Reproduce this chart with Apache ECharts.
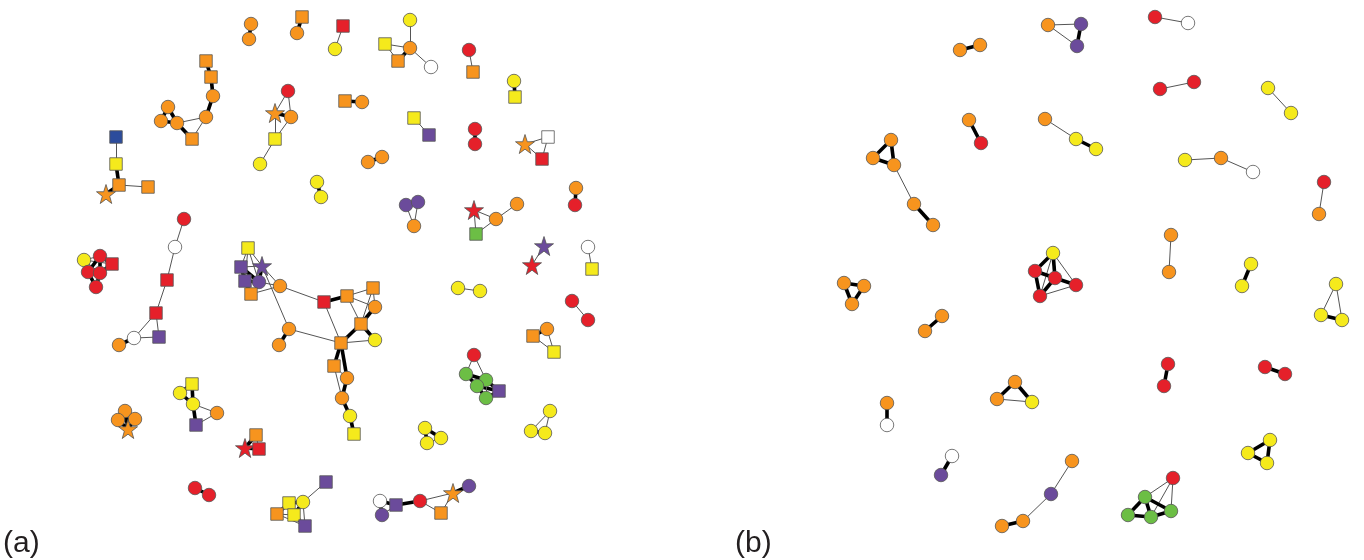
<!DOCTYPE html>
<html><head><meta charset="utf-8">
<script src="https://cdn.jsdelivr.net/npm/echarts@6/dist/echarts.min.js"></script>
<style>html,body{margin:0;padding:0;background:#fff}#c{width:1364px;height:560px}</style>
</head><body><div id="c"></div>
<script>
// Node attributes: [id, x, y, colour code, shape code]  (c=circle, s=square, t=star)
const nodesA = [
 ['a1a',251,24,'O','c'],['a1b',249,39,'O','c'],
 ['a2a',302,17,'O','s'],['a2b',297,33,'O','c'],
 ['a3a',343,26,'R','s'],['a3b',335,49,'Y','c'],
 ['a4a',410,20,'Y','c'],['a4b',410,48,'O','c'],['a4c',385,44,'Y','s'],['a4d',398,61,'O','s'],['a4e',431,67,'W','c'],
 ['a5a',469,50,'R','c'],['a5b',473,72,'O','s'],
 ['a6a',514,81,'Y','c'],['a6b',515,97,'Y','s'],
 ['a7a',206,61,'O','s'],['a7b',211,77,'O','s'],['a7c',213,96,'O','c'],['a7d',206,117,'O','c'],['a7e',168,107,'O','c'],['a7f',161,121,'O','c'],['a7g',177,123,'O','c'],['a7h',192,139,'O','s'],
 ['a8a',288,91,'R','c'],['a8b',275,113,'O','t'],['a8c',291,117,'O','c'],['a8d',275,139,'Y','s'],['a8e',260,164,'Y','c'],
 ['a9a',345,101,'O','s'],['a9b',362,102,'O','c'],
 ['a10a',414,118,'Y','s'],['a10b',429,135,'P','s'],
 ['a11a',368,162,'O','c'],['a11b',382,157,'O','c'],
 ['a12a',317,182,'Y','c'],['a12b',321,197,'Y','c'],
 ['a13a',475,129,'R','c'],['a13b',475,144,'R','c'],
 ['a14a',525,144,'O','t'],['a14b',548,137,'W','s'],['a14c',542,159,'R','s'],
 ['a15a',116,137,'B','s'],['a15b',116,164,'Y','s'],['a15c',119,185,'O','s'],['a15d',148,187,'O','s'],['a15e',106,194,'O','t'],
 ['a16a',576,188,'O','c'],['a16b',575,205,'R','c'],
 ['a17a',406,205,'P','c'],['a17b',418,202,'P','c'],['a17c',414,226,'O','c'],
 ['a18a',474,210,'R','t'],['a18b',496,219,'O','c'],['a18c',517,204,'O','c'],['a18d',476,234,'G','s'],
 ['a19a',544,246,'P','t'],['a19b',532,265,'R','t'],
 ['a20a',588,247,'W','c'],['a20b',592,269,'Y','s'],
 ['a21a',184,219,'R','c'],['a21b',175,247,'W','c'],['a21c',167,280,'R','s'],['a21d',156,313,'R','s'],['a21e',134,338,'W','c'],['a21f',119,345,'O','c'],['a21g',159,337,'P','s'],
 ['a22a',84,260,'Y','c'],['a22b',100,256,'R','c'],['a22c',112,264,'R','s'],['a22d',88,272,'R','c'],['a22e',100,273,'R','c'],['a22f',96,287,'R','c'],
 ['m1',248,248,'Y','s'],['m2',241,267,'P','s'],['m3',262,266,'P','t'],['m4',245,281,'P','s'],['m5',259,282,'P','c'],['m6',251,294,'O','s'],['m7',280,286,'O','c'],
 ['m8',324,302,'R','s'],['m9',347,296,'O','s'],['m10',373,288,'O','s'],['m11',375,307,'O','c'],['m12',361,324,'O','s'],['m13',375,340,'Y','c'],['m14',341,343,'O','s'],
 ['m15',289,329,'O','c'],['m16',279,345,'O','c'],['m17',334,366,'O','s'],['m18',347,378,'O','c'],['m19',342,398,'O','c'],['m20',350,416,'Y','c'],['m21',354,434,'Y','s'],
 ['a24a',458,288,'Y','c'],['a24b',480,291,'Y','c'],
 ['a25a',572,301,'R','c'],['a25b',588,320,'R','c'],
 ['a26a',533,336,'O','s'],['a26b',547,329,'O','c'],['a26c',554,352,'Y','s'],
 ['g0',474,355,'R','c'],['g1',466,374,'G','c'],['g2',486,380,'G','c'],['g3',477,386,'G','c'],['g4',486,398,'G','c'],['g5',499,391,'P','s'],
 ['a28a',125,411,'O','c'],['a28b',118,420,'O','c'],['a28c',135,419,'O','c'],['a28d',128,429,'O','t'],
 ['a29a',192,384,'Y','s'],['a29b',180,393,'Y','c'],['a29c',193,404,'Y','c'],['a29d',217,413,'O','c'],['a29e',196,425,'P','s'],
 ['a30a',425,428,'Y','c'],['a30b',427,443,'Y','c'],['a30c',441,438,'Y','c'],
 ['a31a',550,411,'Y','c'],['a31b',531,431,'Y','c'],['a31c',545,433,'Y','c'],
 ['a32a',256,435,'O','s'],['a32b',245,448,'R','t'],['a32c',259,449,'R','s'],
 ['a33a',195,488,'R','c'],['a33b',209,495,'R','c'],
 ['a34a',326,482,'P','s'],['a34b',303,502,'Y','c'],['a34c',289,503,'Y','s'],['a34d',277,514,'O','s'],['a34e',294,515,'Y','s'],['a34f',305,526,'P','s'],
 ['a35a',380,501,'W','c'],['a35b',396,505,'P','s'],['a35c',382,515,'P','c'],['a35d',420,501,'R','c'],['a35e',453,493,'O','t'],['a35f',469,486,'P','c'],['a35g',441,513,'O','s']
];
// Edges: [source, target, thick(1)/thin(0)]
const edgesA = [
 ['a1a','a1b',1],['a2a','a2b',1],['a3a','a3b',0],
 ['a4a','a4b',0],['a4c','a4b',0],['a4c','a4d',0],['a4d','a4b',1],['a4b','a4e',0],
 ['a5a','a5b',0],['a6a','a6b',1],
 ['a7a','a7b',1],['a7b','a7c',1],['a7c','a7d',1],['a7d','a7g',0],['a7d','a7h',0],['a7g','a7h',1],['a7e','a7f',1],['a7e','a7g',1],['a7f','a7g',1],
 ['a8a','a8b',0],['a8a','a8c',0],['a8b','a8c',1],['a8b','a8d',0],['a8c','a8d',0],['a8d','a8e',0],
 ['a9a','a9b',1],['a10a','a10b',0],['a11a','a11b',1],['a12a','a12b',1],['a13a','a13b',1],
 ['a14a','a14b',0],['a14a','a14c',0],['a14b','a14c',0],
 ['a15a','a15b',0],['a15b','a15c',1],['a15c','a15d',0],['a15c','a15e',1],
 ['a16a','a16b',1],
 ['a17a','a17b',1],['a17a','a17c',0],['a17b','a17c',0],
 ['a18a','a18b',0],['a18a','a18d',0],['a18d','a18b',0],['a18b','a18c',0],
 ['a19a','a19b',0],['a20a','a20b',0],
 ['a21a','a21b',0],['a21b','a21c',0],['a21c','a21d',0],['a21d','a21e',0],['a21d','a21g',0],['a21e','a21g',0],['a21e','a21f',1],
 ['a22a','a22b',0],['a22a','a22c',0],['a22a','a22d',1],['a22a','a22e',0],['a22b','a22c',1],['a22b','a22d',1],['a22b','a22e',1],['a22c','a22e',1],['a22d','a22e',1],['a22d','a22f',1],['a22e','a22f',1],
 ['m1','m2',0],['m1','m3',0],['m1','m4',0],['m1','m5',0],['m2','m3',0],['m2','m4',1],['m2','m5',1],['m3','m5',1],['m4','m5',1],['m4','m6',1],['m5','m6',0],
 ['m3','m7',0],['m5','m7',0],['m6','m7',0],['m3','m15',0],['m7','m8',0],['m8','m9',1],['m8','m14',0],
 ['m9','m10',0],['m9','m12',0],['m9','m11',0],['m10','m11',0],['m10','m12',0],['m11','m12',1],['m12','m13',1],['m12','m14',1],['m13','m14',0],
 ['m15','m14',0],['m15','m16',1],['m14','m17',1],['m14','m18',1],['m17','m18',0],['m17','m19',0],['m18','m19',1],['m19','m20',1],['m20','m21',1],
 ['a24a','a24b',0],['a25a','a25b',0],
 ['a26a','a26b',1],['a26a','a26c',0],['a26b','a26c',0],
 ['g0','g1',0],['g0','g2',0],['g1','g2',1],['g1','g3',1],['g2','g3',1],['g2','g5',1],['g3','g4',1],['g3','g5',1],['g4','g5',1],['g2','g4',0],
 ['a28a','a28b',1],['a28a','a28c',1],['a28a','a28d',1],['a28b','a28c',1],['a28b','a28d',1],['a28c','a28d',1],
 ['a29a','a29b',1],['a29b','a29c',1],['a29a','a29c',1],['a29c','a29d',0],['a29c','a29e',1],['a29d','a29e',0],
 ['a30a','a30b',1],['a30a','a30c',1],['a30b','a30c',0],
 ['a31a','a31b',0],['a31a','a31c',0],['a31b','a31c',1],
 ['a32a','a32b',1],['a32b','a32c',1],['a32a','a32c',0],
 ['a33a','a33b',1],
 ['a34a','a34b',0],['a34b','a34c',1],['a34b','a34e',1],['a34c','a34e',1],['a34c','a34d',1],['a34d','a34e',0],['a34d','a34f',0],['a34e','a34f',1],['a34b','a34f',0],['a34c','a34f',0],
 ['a35a','a35b',1],['a35a','a35c',1],['a35c','a35b',0],['a35b','a35d',1],['a35d','a35e',0],['a35e','a35f',1],['a35d','a35g',0],['a35e','a35g',0]
];
const nodesB = [
 ['b1a',960,50,'O','c'],['b1b',980,45,'O','c'],
 ['b2a',1048,25,'O','c'],['b2b',1081,24,'P','c'],['b2c',1077,46,'P','c'],
 ['b3a',1155,17,'R','c'],['b3b',1188,23,'W','c'],
 ['b4a',1160,89,'R','c'],['b4b',1194,82,'R','c'],
 ['b5a',1268,88,'Y','c'],['b5b',1291,113,'Y','c'],
 ['b6a',969,120,'O','c'],['b6b',981,143,'R','c'],
 ['b7a',1045,119,'O','c'],['b7b',1076,139,'Y','c'],['b7c',1096,149,'Y','c'],
 ['b8a',1185,160,'Y','c'],['b8b',1221,158,'O','c'],['b8c',1253,172,'W','c'],
 ['b9a',1324,182,'R','c'],['b9b',1319,214,'O','c'],
 ['b10a',891,140,'O','c'],['b10b',873,158,'O','c'],['b10c',894,165,'O','c'],['b10d',914,204,'O','c'],['b10e',933,225,'O','c'],
 ['b11a',1171,235,'O','c'],['b11b',1169,272,'O','c'],
 ['b12y',1053,253,'Y','c'],['b12a',1035,271,'R','c'],['b12b',1055,278,'R','c'],['b12c',1076,285,'R','c'],['b12d',1040,296,'R','c'],
 ['b13a',1251,264,'Y','c'],['b13b',1242,286,'Y','c'],
 ['b14a',1336,284,'Y','c'],['b14b',1321,315,'Y','c'],['b14c',1342,320,'Y','c'],
 ['b15a',844,283,'O','c'],['b15b',864,286,'O','c'],['b15c',852,304,'O','c'],
 ['b16a',942,316,'O','c'],['b16b',925,331,'O','c'],
 ['b17a',1168,364,'R','c'],['b17b',1164,386,'R','c'],
 ['b18a',1265,367,'R','c'],['b18b',1285,374,'R','c'],
 ['b19a',887,403,'O','c'],['b19b',887,425,'W','c'],
 ['b20a',1015,382,'O','c'],['b20b',997,399,'O','c'],['b20c',1032,402,'Y','c'],
 ['b21a',952,456,'W','c'],['b21b',941,475,'P','c'],
 ['b22a',1072,461,'O','c'],['b22b',1051,494,'P','c'],['b22c',1023,521,'O','c'],['b22d',1002,526,'O','c'],
 ['b23a',1270,440,'Y','c'],['b23b',1248,453,'Y','c'],['b23c',1267,463,'Y','c'],
 ['b24r',1173,478,'R','c'],['b24a',1145,497,'G','c'],['b24b',1128,515,'G','c'],['b24c',1151,517,'G','c'],['b24d',1171,511,'G','c']
];
const edgesB = [
 ['b1a','b1b',1],['b2a','b2b',0],['b2a','b2c',0],['b2b','b2c',1],['b3a','b3b',0],['b4a','b4b',0],['b5a','b5b',0],
 ['b6a','b6b',1],['b7a','b7b',0],['b7b','b7c',1],['b8a','b8b',0],['b8b','b8c',0],['b9a','b9b',0],
 ['b10a','b10b',1],['b10a','b10c',1],['b10b','b10c',1],['b10c','b10d',0],['b10d','b10e',1],
 ['b11a','b11b',0],
 ['b12y','b12a',1],['b12y','b12b',1],['b12y','b12c',0],['b12y','b12d',0],['b12a','b12b',1],['b12a','b12d',1],['b12b','b12c',1],['b12b','b12d',1],['b12c','b12d',0],
 ['b13a','b13b',1],['b14a','b14b',0],['b14a','b14c',0],['b14b','b14c',1],
 ['b15a','b15b',1],['b15a','b15c',1],['b15b','b15c',1],['b16a','b16b',1],
 ['b17a','b17b',1],['b18a','b18b',1],['b19a','b19b',1],
 ['b20a','b20b',1],['b20a','b20c',1],['b20b','b20c',0],['b21a','b21b',1],
 ['b22a','b22b',0],['b22b','b22c',0],['b22c','b22d',1],
 ['b23a','b23b',1],['b23a','b23c',1],['b23b','b23c',1],
 ['b24r','b24a',0],['b24r','b24c',0],['b24r','b24d',0],['b24a','b24b',1],['b24a','b24c',1],['b24a','b24d',1],['b24b','b24c',1],['b24c','b24d',1]
];
const panelLabels = ['(a)','(b)'];

const COLORS = {O:'#F7941E',Y:'#F5EA1C',R:'#E5202A',P:'#6B4B9B',G:'#6CBE45',B:'#2C4C9C',W:'#FFFFFF'};
const STAR = 'path://M50,0 L61.8,35.1 L98.6,35.1 L68.8,57 L79.4,91.9 L50,70.9 L20.6,91.9 L31.2,57 L1.4,35.1 L38.2,35.1 Z';
const SHAPES = {c:['circle',13.5],s:['rect',12.5],t:[STAR,19]};

function mkNodes(list){
  return list.map(n=>({
    name:n[0], value:[n[1],n[2]],
    symbol:SHAPES[n[4]][0], symbolSize:SHAPES[n[4]][1],
    itemStyle:{color:COLORS[n[3]], borderColor:'#555', borderWidth:0.8}
  }));
}
function mkLinks(list){
  return list.map(e=>({
    source:e[0], target:e[1],
    lineStyle: e[2] ? {width:3.6,color:'#000',opacity:1} : {width:1,color:'#555',opacity:1}
  }));
}
const chart = echarts.init(document.getElementById('c'),null,{renderer:'canvas'});
chart.setOption({
  animation:false,
  backgroundColor:'#fff',
  grid:{left:0,right:0,top:0,bottom:0},
  xAxis:{type:'value',min:0,max:1364,show:false},
  yAxis:{type:'value',min:0,max:560,inverse:true,show:false},
  series:[
    {type:'graph',name:'(a)',coordinateSystem:'cartesian2d',layout:'none',silent:true,
     data:mkNodes(nodesA),links:mkLinks(edgesA),edgeSymbol:['none','none'],label:{show:false}},
    {type:'graph',name:'(b)',coordinateSystem:'cartesian2d',layout:'none',silent:true,
     data:mkNodes(nodesB),links:mkLinks(edgesB),edgeSymbol:['none','none'],label:{show:false}}
  ],
  graphic:[
    {type:'text',left:3,top:529,style:{text:panelLabels[0],font:'30px "Liberation Sans", Arial, sans-serif',fill:'#231F20'}},
    {type:'text',left:735,top:529,style:{text:panelLabels[1],font:'30px "Liberation Sans", Arial, sans-serif',fill:'#231F20'}}
  ]
});
</script></body></html>
